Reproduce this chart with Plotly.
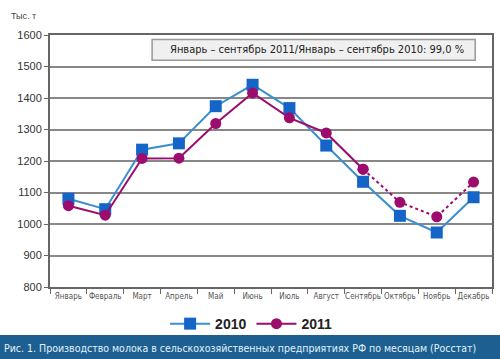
import plotly.graph_objects as go

months = ["Январь", "Февраль", "Март", "Апрель", "Май", "Июнь", "Июль",
          "Август", "Сентябрь", "Октябрь", "Ноябрь", "Декабрь"]
v2010 = [1080, 1047, 1236, 1256, 1374, 1442, 1368, 1249, 1134, 1026, 973, 1085]
v2011 = [1058, 1028, 1208, 1209, 1319, 1416, 1337, 1289, 1174, 1069, 1023, 1133]
yticks = [800, 900, 1000, 1100, 1200, 1300, 1400, 1500, 1600]

blue_line = "#3b8fd0"
blue_mk = "#1565c8"
purple = "#9c0c6c"
narrow = "DejaVu Sans Condensed, Liberation Sans Narrow, Arial Narrow, sans-serif"

fig = go.Figure()
fig.add_trace(go.Scatter(
    x=months, y=v2010, name="2010", mode="lines+markers",
    line=dict(color=blue_line, width=2),
    marker=dict(symbol="square", size=12, color=blue_mk),
))
fig.add_trace(go.Scatter(
    x=months[:9], y=v2011[:9], name="2011", mode="lines+markers",
    line=dict(color=purple, width=2),
    marker=dict(symbol="circle", size=11, color=purple),
))
fig.add_trace(go.Scatter(
    x=months[8:], y=v2011[8:], name="2011", mode="lines+markers", showlegend=False,
    line=dict(color=purple, width=2, dash="dot"),
    marker=dict(symbol="circle", size=11, color=purple),
))

fig.update_layout(
    width=500, height=359,
    margin=dict(l=50, r=8, t=35, b=72, autoexpand=False),
    paper_bgcolor="white", plot_bgcolor="white",
    font=dict(family=narrow, color="#444"),
    showlegend=True,
    legend=dict(orientation="h", x=0.455, xanchor="center", y=-0.147, yanchor="middle",
                font=dict(family="Arial, Liberation Sans, sans-serif", size=14, color="#222",
                          weight="bold"),
                itemwidth=40, bgcolor="rgba(0,0,0,0)"),
)
fig.update_xaxes(
    type="category", showgrid=False, tickson="boundaries", ticks="outside",
    ticklen=5, tickcolor="#666", showline=True, linecolor="#666", linewidth=2,
    mirror=True, tickfont=dict(size=8, color="#555", family=narrow), tickangle=0,
    range=[-0.5, 11.5], automargin=False,
)
fig.update_yaxes(
    range=[800, 1600], tickvals=yticks, showgrid=True, gridcolor="#888", gridwidth=1.5,
    showline=True, linecolor="#666", linewidth=2, mirror=True, ticks="outside",
    ticklen=4, tickcolor="#666", tickfont=dict(size=11, color="#333",
    family="Arial, Liberation Sans, sans-serif"), zeroline=False, automargin=False,
)

# note box
fig.add_shape(type="rect", xref="paper", yref="paper", x0=0.231, x1=0.962, y0=0.90, y1=0.982,
              fillcolor="#f0f0f0", line=dict(color="#999", width=1.5), layer="above")
fig.add_annotation(xref="paper", yref="paper", x=0.605, y=0.941, showarrow=False,
                   xanchor="center", yanchor="middle",
                   text="Январь – сентябрь 2011/Январь – сентябрь 2010: 99,0 %",
                   font=dict(family=narrow, size=11, color="#222"))
# unit label
fig.add_annotation(xref="paper", yref="paper", x=-0.06, y=1.075, showarrow=False,
                   text="Тыс. т", xanchor="center", yanchor="middle",
                   font=dict(family="Arial, Liberation Sans, sans-serif", size=9, color="#444"))
# bottom banner
fig.add_shape(type="rect", xref="paper", yref="paper", x0=-0.12, x1=1.03, y0=-0.295, y1=-0.19,
              fillcolor="#1c5f90", line=dict(width=0), layer="above")
fig.add_annotation(xref="paper", yref="paper", x=-0.108, y=-0.243, showarrow=False,
                   xanchor="left", yanchor="middle",
                   text="Рис. 1. Производство молока в сельскохозяйственных предприятиях РФ по месяцам (Росстат)",
                   font=dict(family=narrow, size=10.5, color="#e3f3fc"))

fig.write_html("out.html", config={"displayModeBar": False},
               post_script="document.body.style.margin='0';document.body.style.overflow='hidden';")
